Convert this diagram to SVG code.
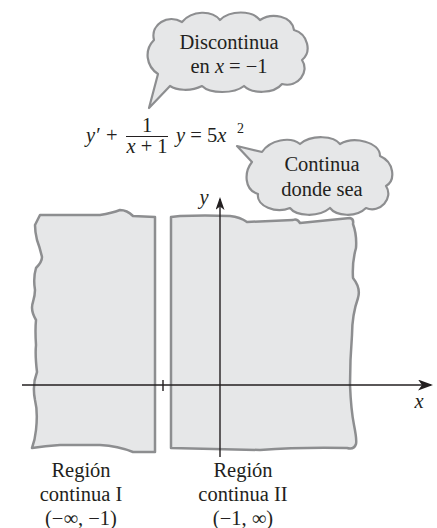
<svg xmlns="http://www.w3.org/2000/svg" width="437" height="528" viewBox="0 0 437 528" font-family="'Liberation Serif', 'Times New Roman', Times, 'DejaVu Serif', serif">
<defs>
<style>
.cloud{fill:#e6e7e8;stroke:#8d8e90;stroke-width:2.2;stroke-linejoin:round}
.region{fill:#e6e7e8;stroke:#8d8e90;stroke-width:2.5;stroke-linejoin:round}
.axis{stroke:#231f20;stroke-width:1.4;fill:none}
.t{font-family:'Liberation Serif','Times New Roman',Times,'DejaVu Serif',serif;font-size:20.5px;fill:#231f20}
.i{font-style:italic}
.c{text-anchor:middle}
</style>
<marker id="ax" viewBox="0 0 15 11" refX="13" refY="5.5" markerWidth="15" markerHeight="11" orient="auto" markerUnits="userSpaceOnUse">
<path d="M0,0 L15,5.5 L0,11 L4,5.5 Z" fill="#231f20"/>
</marker>
<marker id="ay" viewBox="0 0 13 9" refX="11" refY="4.5" markerWidth="13" markerHeight="9" orient="auto" markerUnits="userSpaceOnUse">
<path d="M0,0 L13,4.5 L0,9 L3.5,4.5 Z" fill="#231f20"/>
</marker>
</defs>
<rect width="437" height="528" fill="#ffffff"/>

<g id="region1">
<path class="region" d="M40,215 L100,215 Q112,213 120,210 Q127,210 133,216 L155,217 L155,452 L133,452 Q118,446 100,445 L60,445 Q45,446 32,448 Q35,440 36,430 Q38,412 35,400 Q32,385 37,372 Q35,355 36,345 Q35,330 36,320 Q30,310 33,302 Q35,295 35,290 Q33,278 36,268 Q42,262 42,257 Q40,248 37,240 Q35,232 35,225 Z"/>
</g>

<g id="region2">
<path class="region" d="M171,217 L180,216 Q205,215 230,216 Q240,217 247,222 L293,220 Q297,218 300,223 L350,218 Q354,219 353,224 Q357,235 356,248 Q352,262 353,278 Q361,288 358,298 Q352,315 352,335 Q350,360 350,385 Q351,410 354,425 Q357,440 356,444 Q354,450 347,448 Q300,447 260,450 Q215,449 171,448 Z"/>
</g>

<g id="connectors">
<line class="axis" x1="22" y1="385" x2="431" y2="385" marker-end="url(#ax)"/>
<line class="axis" x1="220" y1="457" x2="220" y2="199" marker-end="url(#ay)"/>
<line class="axis" x1="163" y1="380" x2="163" y2="391"/>
</g>

<g id="cloud1">
<path class="cloud" d="M158,74 C146,66 144,50 154,40 C150,24 168,14 182,22 C192,10 212,10 220,20 C230,10 252,10 260,20 C272,12 292,16 294,30 C308,34 312,52 302,60 C310,72 298,88 282,84 C274,94 252,94 244,86 C234,94 210,94 202,86 C190,92 176,90 170,86 L149,108 Z"/>
<text class="t c" x="229" y="49">Discontinua</text>
<text class="t c" x="229" y="73">en <tspan class="i">x</tspan> = −1</text>
</g>

<g id="cloud2">
<path class="cloud" d="M262,152 C270,140 290,136 300,144 C312,134 334,136 340,144 C354,136 380,142 380,156 C394,162 396,180 386,186 C394,198 380,214 366,208 C356,218 336,216 330,208 C318,218 296,216 290,208 C276,214 256,206 258,194 C244,190 244,172 252,162 L237,146 Z"/>
<text class="t c" x="322" y="171">Continua</text>
<text class="t c" x="322" y="196">donde sea</text>
</g>

<g id="equation">
<text class="t i" x="86" y="142">y′</text>
<text class="t" x="106" y="142">+</text>
<text class="t c" x="147" y="132">1</text>
<line x1="126" y1="136.5" x2="168" y2="136.5" stroke="#231f20" stroke-width="1.2"/>
<text class="t c" x="147" y="153"><tspan class="i">x</tspan> + 1</text>
<text class="t" x="176" y="142"><tspan class="i">y</tspan> = 5<tspan class="i">x</tspan></text>
<text class="t" x="237" y="133" style="font-size:14px">2</text>
</g>

<g id="labels">
<text class="t i" x="204" y="204" text-anchor="middle">y</text>
<text class="t i" x="419" y="408" text-anchor="middle">x</text>
<text class="t c" x="81" y="477">Región</text>
<text class="t c" x="81" y="501">continua I</text>
<text class="t c" x="81" y="525">(−∞, −1)</text>
<text class="t c" x="243" y="477">Región</text>
<text class="t c" x="243" y="501">continua II</text>
<text class="t c" x="243" y="525">(−1, ∞)</text>
</g>
</svg>
